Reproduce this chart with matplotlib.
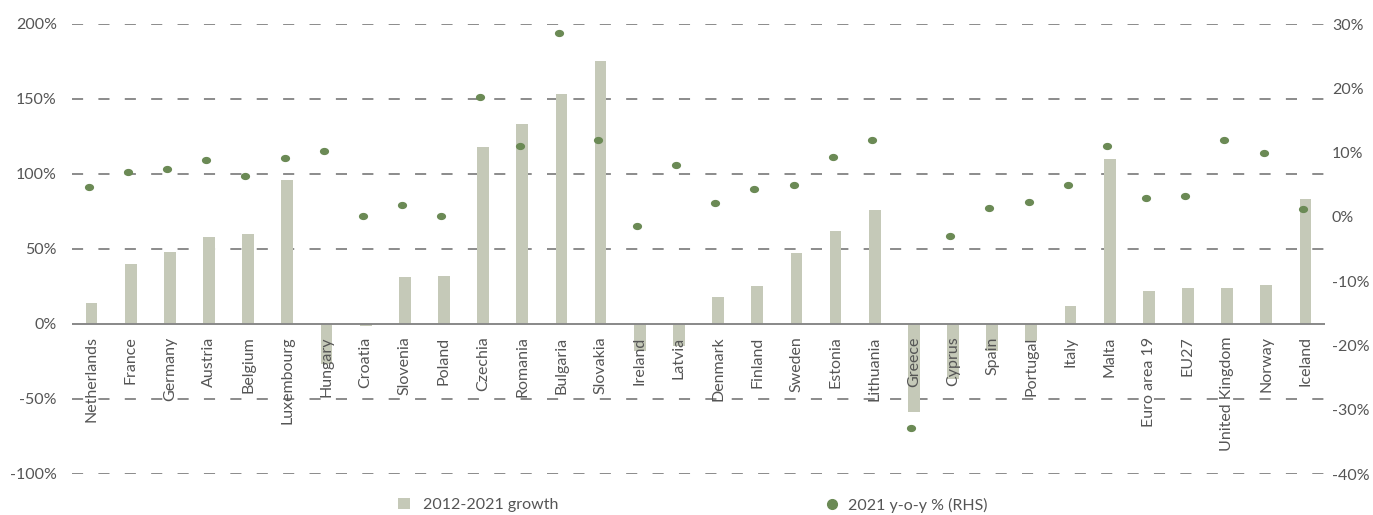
import matplotlib
matplotlib.use("Agg")
import matplotlib.pyplot as plt
import numpy as np
from matplotlib.path import Path
from matplotlib.lines import Line2D
from matplotlib.patches import Patch

plt.rcParams['font.family'] = ['Lato', 'DejaVu Sans']

countries = ["Netherlands", "France", "Germany", "Austria", "Belgium", "Luxembourg",
             "Hungary", "Croatia", "Slovenia", "Poland", "Czechia", "Romania",
             "Bulgaria", "Slovakia", "Ireland", "Latvia", "Denmark", "Finland",
             "Sweden", "Estonia", "Lithuania", "Greece", "Cyprus", "Spain",
             "Portugal", "Italy", "Malta", "Euro area 19", "EU27",
             "United Kingdom", "Norway", "Iceland"]

growth_2012_2021 = [14, 40, 48, 58, 60, 96, -27, -1.5, 31, 32, 118, 133,
                    153, 175, -18, -15, 18, 25, 47, 62, 76, -59, -37, -18,
                    -11.5, 12, 110, 22, 24, 24, 26, 83]

yoy_2021 = [4.7, 7.0, 7.4, 8.8, 6.3, 9.2, 10.3, 0.2, 1.8, 0.2, 18.7, 11.1,
            28.6, 11.9, -1.4, 8.0, 2.2, 4.3, 4.9, 9.3, 11.9, -32.9, -2.9, 1.4,
            2.3, 4.9, 11.1, 2.9, 3.3, 11.9, 10.0, 1.2]

left_ticks = [-100, -50, 0, 50, 100, 150, 200]
right_ticks = [-40, -30, -20, -10, 0, 10, 20, 30]

bar_color = "#c5c9b8"
dot_color = "#6b8a55"
text_color = "#555555"
grid_color = "#7d7d7d"

fig = plt.figure(figsize=(13.73, 5.15), dpi=100)
ax = fig.add_axes([72 / 1373, 1 - 474 / 515, (1325 - 72) / 1373, 450 / 515])
ax2 = ax.twinx()

x = np.arange(len(countries))

# dashed horizontal gridlines from the left scale, solid zero line
for t in left_ticks:
    if t == 0:
        ax.axhline(0, color="#888888", lw=1.4, zorder=3)
    else:
        ax.axhline(t, color=grid_color, lw=1.25, linestyle=(0, (6.4, 8.8)),
                   zorder=1)

ax.bar(x, growth_2012_2021, width=0.30, color=bar_color, zorder=2)

# slightly flattened round marker for the y-o-y points
circ = Path.unit_circle()
ell = Path(circ.vertices * np.array([1.0, 0.75]), circ.codes)
ax2.plot(x - 0.07, yoy_2021, linestyle="none", marker=ell, markersize=5.6,
         color=dot_color, zorder=4)

ax.set_xlim(-0.5, len(countries) - 0.5)
ax.set_ylim(-100, 200)
ax2.set_ylim(-40, 30)

ax.set_yticks(left_ticks)
ax.set_yticklabels([f"{t}%" for t in left_ticks])
ax2.set_yticks(right_ticks)
ax2.set_yticklabels([f"{t}%" for t in right_ticks])

ax.tick_params(axis="y", length=0, pad=11, labelsize=11.5, labelcolor=text_color)
ax2.tick_params(axis="y", length=0, pad=5, labelsize=11.5, labelcolor=text_color)
ax.set_xticks([])

for a in (ax, ax2):
    for s in a.spines.values():
        s.set_visible(False)

# category labels hang from the zero line
for i, name in enumerate(countries):
    ax.annotate(name, xy=(i, 0), xytext=(0, -9), textcoords="offset points",
                rotation=90, ha="center", va="top", fontsize=11.5,
                color=text_color, zorder=5, annotation_clip=False)

ax2.set_zorder(ax.get_zorder() + 1)
ax2.patch.set_visible(False)

h1 = Patch(facecolor=bar_color, edgecolor="none")
h2 = Line2D([], [], linestyle="none", marker="o", markersize=7, color=dot_color)
fig.legend([h1], ["2012-2021 growth"], loc="center left",
           bbox_to_anchor=(390 / 1373, 1 - 505 / 515), frameon=False,
           fontsize=11.5, handlelength=0.75, handleheight=0.75,
           handletextpad=0.8, borderpad=0, labelcolor=text_color)
fig.legend([h2], ["2021 y-o-y % (RHS)"], loc="center left",
           bbox_to_anchor=(818 / 1373, 1 - 505 / 515), frameon=False,
           fontsize=11.5, handlelength=0.8, handletextpad=0.6,
           borderpad=0, labelcolor=text_color)

fig.savefig("out.png", dpi=100, facecolor="white")
